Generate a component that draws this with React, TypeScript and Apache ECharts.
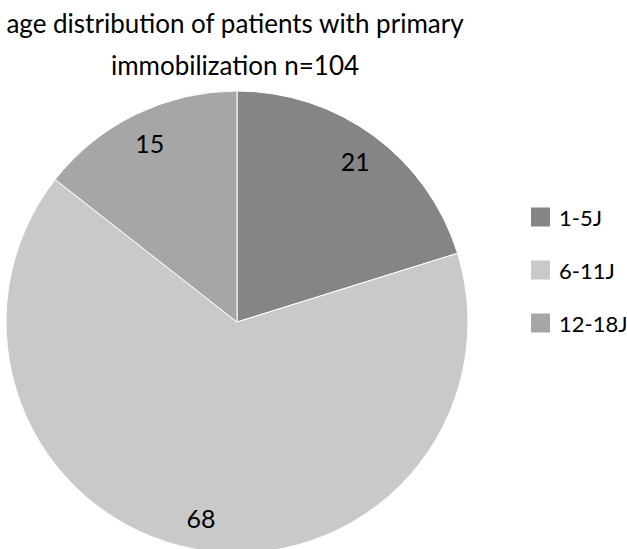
import React, { useEffect, useRef } from "react";
import * as echarts from "echarts";

const categories = ["1-5J", "6-11J", "12-18J"];
const values = [21, 68, 15];
const colors = ["#858585", "#c9c9c9", "#a6a6a6"];
const titleLines = ["age distribution of patients with primary", "immobilization n=104"];

const FONT = "Lato, 'Open Sans', sans-serif";

export default function App() {
  const ref = useRef<HTMLDivElement>(null);
  useEffect(() => {
    if (!ref.current) return;
    const chart = echarts.init(ref.current, undefined, { renderer: "svg" });
    const data = categories.map((name, i) => ({
      name,
      value: values[i],
      itemStyle: { color: colors[i] },
    }));
    chart.setOption({
      animation: false,
      backgroundColor: "#ffffff",
      graphic: titleLines.map((t, i) => ({
        type: "text",
        x: 235,
        y: 23 + i * 42,
        style: {
          text: t,
          fill: "#000",
          font: `26px ${FONT}`,
          align: "center",
          verticalAlign: "middle",
        },
      })),
      legend: {
        orient: "vertical",
        left: 526,
        top: 201,
        icon: "rect",
        itemWidth: 19,
        itemHeight: 19,
        itemGap: 31,
        itemStyle: { borderWidth: 0 },
        textStyle: { fontFamily: FONT, fontSize: 22, color: "#000", lineHeight: 19, padding: [0, 0, 0, 4] },
        data: categories,
      },
      series: [
        {
          type: "pie",
          center: [237, 322],
          radius: [0, 231],
          startAngle: 90,
          clockwise: true,
          data,
          label: { show: false },
          labelLine: { show: false },
          itemStyle: { borderColor: "#ffffff", borderWidth: 1 },
          emphasis: { disabled: true },
        },
        {
          type: "pie",
          center: [237, 322],
          radius: [162, 231],
          startAngle: 90,
          clockwise: true,
          silent: true,
          data: categories.map((name, i) => ({ name: name + " ", value: values[i] })),
          itemStyle: { color: "rgba(0,0,0,0)" },
          label: {
            show: true,
            position: "inside",
            formatter: "{c}",
            fontFamily: FONT,
            fontSize: 25,
            color: "#000",
          },
          labelLine: { show: false },
          emphasis: { disabled: true },
        },
      ],
    });
    return () => chart.dispose();
  }, []);
  return <div ref={ref} style={{ position: "fixed", left: 0, top: 0, width: 627, height: 549 }} />;
}
